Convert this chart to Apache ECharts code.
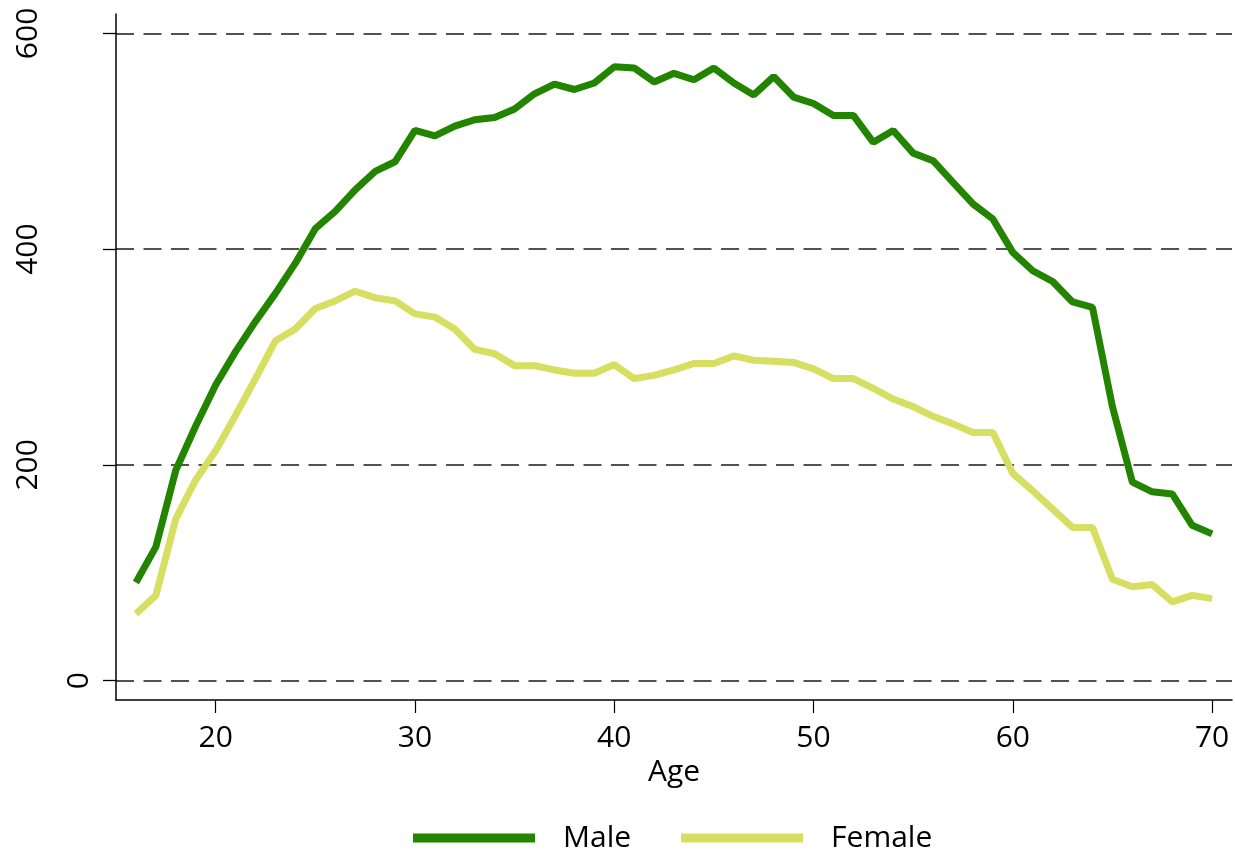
<!DOCTYPE html>
<html>
<head>
<meta charset="utf-8">
<title>Age profile</title>
<script src="https://cdn.jsdelivr.net/npm/echarts@6/dist/echarts.min.js"></script>
<style>
  html, body { margin: 0; padding: 0; background: #fff; }
  #chart { width: 1235px; height: 852px; }
</style>
</head>
<body>
<div id="chart"></div>
<script>
// values by age, 16..70
const ages = []
for (let a = 16; a <= 70; a++) ages.push(a)

const male = [
  91, 124, 195, 236, 274, 305, 333, 359, 387, 419,
  435, 455, 472, 481, 510, 505, 514, 520, 522, 530,
  544, 553, 548, 554, 569, 568, 555, 563, 557, 568,
  554, 543, 560, 541, 535, 524, 524, 499, 510, 489,
  482, 462, 442, 428, 397, 380, 370, 351, 346, 254,
  184, 175, 173, 144, 136
]
const female = [
  62, 79, 150, 186, 213, 246, 280, 315, 326, 345,
  352, 361, 355, 352, 340, 337, 326, 307, 303, 292,
  292, 288, 285, 285, 293, 280, 283, 288, 294, 294,
  301, 297, 296, 295, 289, 280, 280, 271, 261, 254,
  245, 238, 230, 230, 192, 176, 159, 142, 142, 94,
  87, 89, 73, 79, 76
]

const pairs = (vals) => ages.map((a, i) => [a, vals[i]])

const FONT = '"Open Sans", "Noto Sans", sans-serif'

const chart = echarts.init(document.getElementById('chart'))

const option = {
  animation: false,
  backgroundColor: '#fff',
  textStyle: { fontFamily: FONT },
  grid: { left: 116, right: 3, top: 14, bottom: 152 },
  legend: {
    left: 413,
    top: 823,
    padding: 0,
    itemGap: 50,
    itemWidth: 122,
    itemHeight: 9,
    icon: 'rect',
    textStyle: { color: '#000', fontSize: 30, fontFamily: FONT, padding: [0, 0, 0, 23] },
    data: ['Male', 'Female']
  },
  xAxis: {
    type: 'value',
    min: 15,
    max: 71,
    name: 'Age',
    nameLocation: 'middle',
    nameGap: 55,
    nameTextStyle: { color: '#000', fontSize: 30, fontFamily: FONT },
    axisLine: { show: true, onZero: false, lineStyle: { color: '#000', width: 1.5 } },
    axisTick: {
      show: true,
      length: 13,
      customValues: [20, 30, 40, 50, 60, 70],
      lineStyle: { color: '#000', width: 1.2 }
    },
    axisLabel: {
      margin: 23,
      color: '#000',
      fontSize: 30,
      fontFamily: FONT,
      customValues: [20, 30, 40, 50, 60, 70]
    },
    splitLine: { show: false }
  },
  yAxis: {
    type: 'value',
    min: -18,
    max: 618,
    axisLine: { show: true, onZero: false, lineStyle: { color: '#000', width: 1.5 } },
    axisTick: {
      show: true,
      length: 13,
      customValues: [0, 200, 400, 600],
      lineStyle: { color: '#000', width: 1.3 }
    },
    axisLabel: {
      rotate: 90,
      margin: 22,
      color: '#000',
      fontSize: 30,
      fontFamily: FONT,
      customValues: [0, 200, 400, 600],
      formatter: function (v) {
        return v === 0 ? '{a|0}' : '{b|' + v + '}'
      },
      rich: {
        a: { color: '#000', fontSize: 30, fontFamily: FONT },
        b: { color: '#000', fontSize: 30, fontFamily: FONT, padding: [0, 0, 51, 0] }
      }
    },
    splitLine: {
      show: true,
      lineStyle: { color: '#1a1a1a', width: 1.5, type: [18, 9.5] }
    }
  },
  series: [
    {
      name: 'Male',
      type: 'line',
      data: pairs(male),
      showSymbol: false,
      symbol: 'none',
      lineStyle: { width: 7, color: '#238400' },
      itemStyle: { color: '#238400' }
    },
    {
      name: 'Female',
      type: 'line',
      data: pairs(female),
      showSymbol: false,
      symbol: 'none',
      lineStyle: { width: 7, color: '#d6df61' },
      itemStyle: { color: '#d6df61' }
    }
  ]
}

chart.setOption(option)
</script>
</body>
</html>
